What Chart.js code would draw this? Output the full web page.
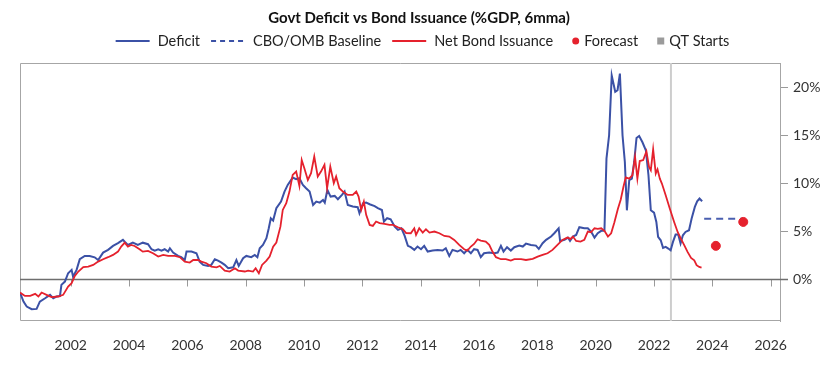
<!DOCTYPE html>
<html>
<head>
<meta charset="utf-8">
<script src="https://cdn.jsdelivr.net/npm/chart.js@4.4.0/dist/chart.umd.min.js"></script>
<style>
  html, body { margin: 0; padding: 0; background: #fff; }
</style>
</head>
<body>
<canvas id="chart" width="840" height="367"></canvas>
<script>
// values (decimal years, % of GDP)
const deficitYears = [2000.26, 2000.38, 2000.49, 2000.66, 2000.83, 2000.94, 2001.12, 2001.29, 2001.40, 2001.51, 2001.63, 2001.68, 2001.80, 2001.91, 2002.03, 2002.08, 2002.20, 2002.31, 2002.48, 2002.65, 2002.82, 2002.94, 2003.11, 2003.28, 2003.45, 2003.62, 2003.79, 2003.85, 2003.96, 2004.13, 2004.30, 2004.47, 2004.65, 2004.77, 2004.88, 2005.00, 2005.11, 2005.22, 2005.34, 2005.40, 2005.51, 2005.68, 2005.79, 2005.91, 2005.97, 2006.14, 2006.31, 2006.42, 2006.54, 2006.71, 2006.82, 2006.94, 2007.05, 2007.17, 2007.28, 2007.40, 2007.57, 2007.68, 2007.76, 2007.91, 2008.02, 2008.19, 2008.31, 2008.40, 2008.48, 2008.59, 2008.71, 2008.79, 2008.86, 2008.94, 2009.05, 2009.21, 2009.33, 2009.44, 2009.61, 2009.73, 2009.84, 2009.96, 2010.07, 2010.19, 2010.31, 2010.42, 2010.54, 2010.65, 2010.71, 2010.80, 2010.91, 2011.05, 2011.16, 2011.30, 2011.39, 2011.50, 2011.67, 2011.84, 2011.90, 2012.02, 2012.13, 2012.25, 2012.42, 2012.53, 2012.67, 2012.74, 2012.85, 2012.97, 2013.11, 2013.22, 2013.34, 2013.45, 2013.56, 2013.66, 2013.78, 2013.89, 2014.01, 2014.12, 2014.24, 2014.41, 2014.58, 2014.75, 2014.86, 2014.98, 2015.09, 2015.26, 2015.37, 2015.49, 2015.60, 2015.72, 2015.83, 2015.95, 2016.06, 2016.17, 2016.35, 2016.52, 2016.64, 2016.75, 2016.84, 2016.96, 2017.09, 2017.21, 2017.38, 2017.50, 2017.61, 2017.78, 2017.95, 2018.05, 2018.18, 2018.30, 2018.47, 2018.58, 2018.73, 2018.78, 2018.93, 2019.05, 2019.12, 2019.22, 2019.33, 2019.44, 2019.61, 2019.73, 2019.84, 2019.96, 2020.07, 2020.19, 2020.30, 2020.37, 2020.46, 2020.55, 2020.67, 2020.75, 2020.83, 2020.92, 2021.00, 2021.07, 2021.15, 2021.24, 2021.32, 2021.40, 2021.49, 2021.60, 2021.72, 2021.81, 2021.89, 2022.00, 2022.08, 2022.14, 2022.23, 2022.31, 2022.40, 2022.49, 2022.57, 2022.65, 2022.74, 2022.83, 2022.91, 2022.99, 2023.08, 2023.20, 2023.29, 2023.40, 2023.48, 2023.56, 2023.65];
const deficitValues = [-1.39, -2.33, -2.85, -3.12, -3.09, -2.33, -1.98, -1.63, -1.98, -1.80, -1.75, -0.59, -0.25, 0.62, 0.97, 0.26, 0.97, 2.08, 2.42, 2.42, 2.28, 2.00, 2.77, 3.05, 3.47, 3.75, 4.09, 3.90, 3.57, 3.80, 3.57, 3.80, 3.64, 3.12, 2.98, 3.12, 2.98, 3.12, 2.88, 3.22, 2.77, 2.42, 2.29, 2.00, 2.88, 2.88, 2.70, 1.83, 1.49, 1.38, 1.49, 2.08, 1.94, 1.73, 1.49, 1.14, 1.24, 2.00, 1.38, 2.18, 2.42, 2.29, 2.53, 2.29, 3.22, 3.57, 4.27, 5.30, 6.35, 6.10, 7.39, 8.08, 9.12, 9.81, 10.57, 10.40, 10.50, 9.81, 9.47, 9.12, 7.73, 8.08, 7.97, 8.24, 7.97, 9.29, 8.60, 8.67, 8.32, 8.77, 9.12, 7.73, 7.56, 7.49, 6.87, 7.90, 7.97, 7.80, 7.60, 7.39, 7.20, 6.00, 6.35, 6.24, 5.47, 5.13, 5.30, 4.50, 3.47, 3.33, 3.05, 3.40, 3.12, 3.47, 2.88, 2.98, 3.05, 2.98, 3.22, 2.42, 3.05, 2.88, 3.05, 2.70, 3.05, 2.70, 3.12, 3.05, 2.29, 2.70, 2.77, 2.70, 2.77, 3.47, 2.88, 3.33, 2.98, 3.33, 3.50, 3.40, 3.70, 3.57, 3.50, 3.15, 3.74, 4.09, 4.44, 4.78, 5.30, 3.98, 4.09, 4.33, 3.98, 4.44, 4.61, 5.41, 5.30, 5.30, 4.96, 4.33, 4.78, 5.03, 5.03, 12.55, 14.98, 21.20, 19.50, 19.67, 21.40, 14.98, 12.20, 7.17, 10.30, 10.47, 12.20, 14.70, 14.90, 14.28, 13.42, 10.82, 7.17, 6.93, 5.96, 4.40, 4.05, 3.26, 3.36, 3.19, 3.01, 3.88, 4.64, 4.64, 3.71, 4.57, 4.92, 5.10, 6.31, 7.52, 8.11, 8.39, 8.11];

const issuanceYears = [2000.26, 2000.43, 2000.61, 2000.78, 2000.89, 2001.00, 2001.17, 2001.34, 2001.57, 2001.74, 2001.91, 2002.03, 2002.14, 2002.26, 2002.43, 2002.60, 2002.77, 2002.94, 2003.11, 2003.28, 2003.45, 2003.62, 2003.73, 2003.85, 2003.96, 2004.07, 2004.19, 2004.36, 2004.47, 2004.65, 2004.82, 2005.00, 2005.17, 2005.34, 2005.57, 2005.74, 2005.91, 2006.08, 2006.20, 2006.37, 2006.48, 2006.65, 2006.82, 2007.00, 2007.11, 2007.28, 2007.45, 2007.63, 2007.74, 2007.97, 2008.08, 2008.25, 2008.34, 2008.45, 2008.56, 2008.71, 2008.82, 2008.94, 2009.05, 2009.19, 2009.27, 2009.39, 2009.50, 2009.61, 2009.73, 2009.84, 2009.92, 2010.01, 2010.13, 2010.24, 2010.35, 2010.47, 2010.58, 2010.70, 2010.79, 2010.90, 2011.02, 2011.10, 2011.21, 2011.33, 2011.50, 2011.67, 2011.79, 2011.87, 2011.96, 2012.05, 2012.13, 2012.25, 2012.36, 2012.47, 2012.59, 2012.76, 2012.93, 2013.05, 2013.22, 2013.39, 2013.50, 2013.66, 2013.78, 2013.84, 2013.95, 2014.07, 2014.18, 2014.30, 2014.47, 2014.64, 2014.81, 2014.98, 2015.15, 2015.32, 2015.49, 2015.60, 2015.72, 2015.83, 2015.95, 2016.06, 2016.23, 2016.35, 2016.46, 2016.58, 2016.75, 2016.92, 2017.09, 2017.21, 2017.44, 2017.61, 2017.84, 2018.01, 2018.18, 2018.35, 2018.52, 2018.69, 2018.86, 2019.03, 2019.14, 2019.22, 2019.33, 2019.48, 2019.61, 2019.73, 2019.84, 2019.96, 2020.07, 2020.19, 2020.30, 2020.42, 2020.53, 2020.64, 2020.76, 2020.86, 2020.95, 2021.03, 2021.15, 2021.26, 2021.35, 2021.43, 2021.51, 2021.63, 2021.74, 2021.83, 2021.89, 2021.97, 2022.06, 2022.12, 2022.20, 2022.27, 2022.40, 2022.54, 2022.69, 2022.81, 2022.92, 2023.04, 2023.15, 2023.27, 2023.38, 2023.46, 2023.55, 2023.63];
const issuanceValues = [-1.39, -1.74, -1.74, -1.53, -1.80, -1.39, -1.63, -1.87, -1.80, -1.63, -0.77, -0.42, 0.34, 0.80, 1.25, 1.32, 1.49, 1.83, 2.08, 2.29, 2.53, 2.87, 3.39, 3.81, 3.39, 3.57, 3.46, 3.12, 2.87, 2.95, 2.70, 2.35, 2.53, 2.42, 2.42, 2.29, 1.83, 1.73, 2.00, 2.00, 1.83, 1.66, 1.31, 1.24, 1.38, 0.90, 0.80, 1.14, 0.90, 0.80, 0.90, 0.80, 1.14, 0.62, 1.49, 1.94, 2.35, 3.39, 3.81, 5.47, 7.21, 7.90, 9.12, 10.85, 11.20, 9.70, 12.41, 11.55, 10.33, 11.03, 12.76, 10.68, 11.20, 11.90, 9.47, 11.72, 10.00, 10.68, 9.47, 9.12, 8.77, 8.77, 9.12, 8.60, 7.21, 8.08, 6.70, 5.65, 5.55, 6.00, 5.83, 5.76, 5.65, 5.65, 5.41, 5.20, 4.79, 4.78, 5.30, 4.60, 5.30, 4.85, 5.20, 4.85, 4.96, 4.78, 4.50, 4.44, 4.09, 3.57, 3.12, 2.98, 3.40, 3.67, 4.16, 4.02, 3.92, 3.57, 2.88, 2.29, 2.08, 2.08, 1.94, 2.08, 2.08, 2.00, 2.11, 2.35, 2.53, 2.70, 3.05, 3.57, 4.09, 4.33, 4.20, 4.44, 3.98, 3.92, 4.09, 4.96, 4.89, 5.30, 5.23, 5.30, 5.03, 4.44, 4.78, 5.90, 7.30, 8.30, 9.60, 10.60, 10.47, 10.82, 12.72, 10.47, 12.30, 12.40, 13.30, 11.68, 11.34, 13.52, 10.99, 11.44, 10.47, 9.95, 8.74, 7.35, 5.96, 4.92, 4.23, 3.53, 2.84, 2.22, 1.97, 1.46, 1.28, 1.21];

const baselineYears = [2023.72, 2025.06];
const baselineValues = [6.3, 6.3];

const forecastYears = [2024.12, 2025.06];
const forecastValues = [3.47, 5.96];

const qtStartYear = 2022.58;

const yearTicks = [2002, 2004, 2006, 2008, 2010, 2012, 2014, 2016, 2018, 2020, 2022, 2024, 2026];
const pctTicks = [0, 5, 10, 15, 20];

const BLUE = "#3b51a6";
const RED = "#e5212d";
const FONT = "Lato";
const TITLE = "Govt Deficit vs Bond Issuance (%GDP, 6mma)";

const toPoints = (xs, ys) => xs.map((x, i) => ({ x: x, y: ys[i] }));

// grey frame, zero line and the small year ticks hanging off it
const framePlugin = {
  id: "frame",
  beforeDatasetsDraw(chart) {
    const { ctx, chartArea: a, scales } = chart;
    ctx.save();
    ctx.strokeStyle = "#a6a6a6";
    ctx.lineWidth = 1;
    ctx.beginPath();
    ctx.moveTo(a.right, a.top + 0.5);
    ctx.lineTo(a.left + 0.5, a.top + 0.5);
    ctx.lineTo(a.left + 0.5, a.bottom - 0.5);
    ctx.lineTo(a.right, a.bottom - 0.5);
    ctx.stroke();

    const y0 = Math.round(scales.y.getPixelForValue(0)) + 0.5;
    ctx.strokeStyle = "#9a9a9a";
    yearTicks.forEach((v) => {
      const x = Math.round(scales.x.getPixelForValue(v)) + 0.5;
      ctx.beginPath();
      ctx.moveTo(x, y0);
      ctx.lineTo(x, y0 + 7);
      ctx.stroke();
    });
    ctx.strokeStyle = "#6e6e6e";
    ctx.lineWidth = 1.5;
    ctx.beginPath();
    ctx.moveTo(a.left, y0);
    ctx.lineTo(a.right + 8, y0);
    ctx.stroke();
    ctx.restore();
  },
};

// title and legend drawn by hand: line samples and point markers side by side
const legendItems = [
  { label: "Deficit", kind: "line", color: BLUE },
  { label: "CBO/OMB Baseline", kind: "dash", color: BLUE },
  { label: "Net Bond Issuance", kind: "line", color: RED },
  { label: "Forecast", kind: "dot", color: RED },
  { label: "QT Starts", kind: "square", color: "#9b9b9b" },
];

const legendPlugin = {
  id: "customLegend",
  afterDraw(chart) {
    const ctx = chart.ctx;
    ctx.save();
    ctx.textBaseline = "middle";
    ctx.textAlign = "center";
    ctx.fillStyle = "#111";
    ctx.font = "bold 15px " + FONT;
    ctx.fillText(TITLE, 419, 18);

    const y = 41;
    ctx.textAlign = "left";
    ctx.font = "14.5px " + FONT;
    const parts = legendItems.map((it, i) => {
      const isLine = it.kind === "line" || it.kind === "dash";
      return {
        it: it,
        pre: i === 0 ? 0 : isLine ? 11 : 19,
        sym: isLine ? 34 : 7,
        gap: isLine ? 8 : 5,
        tw: ctx.measureText(it.label).width,
      };
    });
    const total = parts.reduce((s, p) => s + p.pre + p.sym + p.gap + p.tw, 0);
    let x = 422.5 - total / 2;
    parts.forEach((p) => {
      x += p.pre;
      const it = p.it;
      ctx.strokeStyle = it.color;
      ctx.fillStyle = it.color;
      if (it.kind === "line" || it.kind === "dash") {
        ctx.lineWidth = 2;
        ctx.setLineDash(it.kind === "dash" ? [5, 4] : []);
        ctx.beginPath();
        ctx.moveTo(x, y);
        ctx.lineTo(x + p.sym, y);
        ctx.stroke();
        ctx.setLineDash([]);
      } else if (it.kind === "dot") {
        ctx.beginPath();
        ctx.arc(x + 3.5, y, 3.5, 0, Math.PI * 2);
        ctx.fill();
      } else {
        ctx.fillRect(x, y - 3.5, 7, 7);
      }
      x += p.sym + p.gap;
      ctx.fillStyle = "#222";
      ctx.fillText(it.label, x, y + 0.5);
      x += p.tw;
    });
    ctx.restore();
  },
};

new Chart(document.getElementById("chart"), {
  type: "line",
  data: {
    datasets: [
      {
        label: "Forecast",
        data: toPoints(forecastYears, forecastValues),
        showLine: false,
        pointRadius: 4.5,
        pointBackgroundColor: RED,
        pointBorderColor: RED,
      },
      {
        label: "Net Bond Issuance",
        data: toPoints(issuanceYears, issuanceValues),
        borderColor: RED,
        borderWidth: 1.8,
        pointRadius: 0,
      },
      {
        label: "CBO/OMB Baseline",
        data: toPoints(baselineYears, baselineValues),
        borderColor: "#4a5fb0",
        borderWidth: 2,
        borderDash: [7, 5],
        pointRadius: 0,
      },
      {
        label: "Deficit",
        data: toPoints(deficitYears, deficitValues),
        borderColor: BLUE,
        borderWidth: 2,
        pointRadius: 0,
      },
      {
        label: "QT Starts",
        data: [{ x: qtStartYear, y: -10 }, { x: qtStartYear, y: 30 }],
        borderColor: "#cdcdcd",
        borderWidth: 2,
        pointRadius: 0,
      },
    ],
  },
  options: {
    responsive: false,
    animation: false,
    layout: { padding: { left: 20, right: 0, top: 63, bottom: 0 } },
    plugins: {
      legend: { display: false },
      tooltip: { enabled: false },
      title: { display: false },
    },
    scales: {
      x: {
        type: "linear",
        min: 2000.26,
        max: 2026.32,
        afterBuildTicks: (s) => { s.ticks = yearTicks.map((v) => ({ value: v })); },
        afterFit: (s) => { s.height = 46; },
        grid: { display: false, drawTicks: false },
        border: { display: false },
        ticks: {
          padding: 16,
          color: "#333",
          maxRotation: 0,
          autoSkip: false,
          font: { family: FONT, size: 14 },
          callback: (v) => String(v),
        },
      },
      y: {
        position: "right",
        min: -4.35,
        max: 22.5,
        afterBuildTicks: (s) => { s.ticks = pctTicks.map((v) => ({ value: v })); },
        afterFit: (s) => { s.width = 60; },
        grid: { drawOnChartArea: false, tickLength: 8, tickColor: "#9a9a9a" },
        border: { color: "#a6a6a6" },
        ticks: {
          padding: 5,
          color: "#333",
          font: { family: FONT, size: 14 },
          callback: (v) => v + "%",
        },
      },
    },
  },
  plugins: [framePlugin, legendPlugin],
});
</script>
</body>
</html>
